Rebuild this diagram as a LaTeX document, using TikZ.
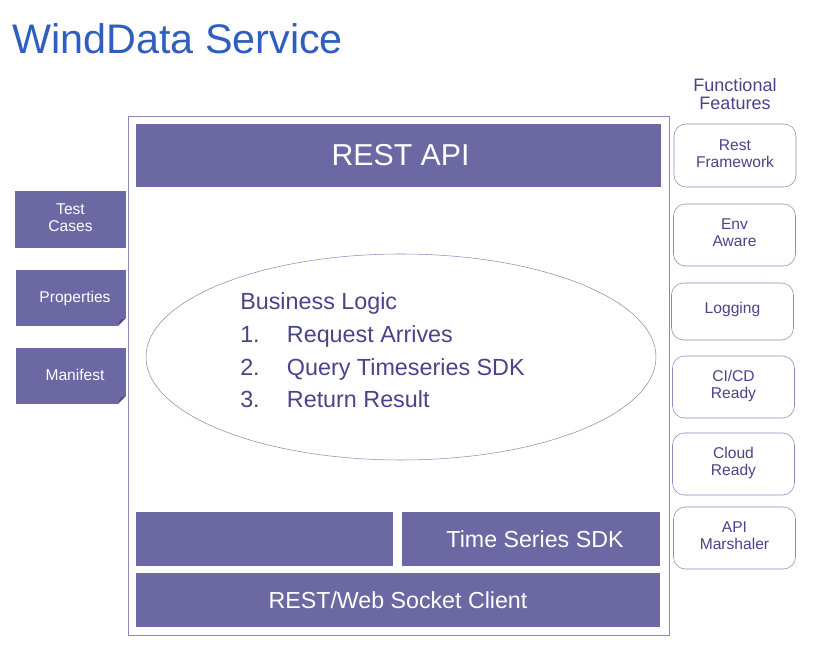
\documentclass[tikz,border=0pt]{standalone}
\usepackage{fontspec}
\setmainfont{Liberation Sans}
\usetikzlibrary{shapes.geometric}
\definecolor{barfill}{RGB}{108,104,164}
\definecolor{linecol}{RGB}{140,136,190}
\definecolor{textcol}{RGB}{72,68,138}
\definecolor{titlecol}{RGB}{48,94,190}
\definecolor{foldcol}{RGB}{80,76,130}
\newcommand{\pxu}{0.75pt}

\begin{document}
\begin{tikzpicture}[x=0.75pt,y=-0.75pt,
    bar/.style={fill=barfill,text=white,inner sep=0pt,outer sep=0pt},
    side/.style={bar,align=center,font=\fontsize{11.7}{12.8}\selectfont},
    feat/.style={draw=linecol,fill=white,rounded corners=9pt,text=textcol,align=center,
                 inner sep=0pt,font=\fontsize{11.7}{12.8}\selectfont}]
  \useasboundingbox (0,0) rectangle (814,655);

  \node[anchor=base west,inner sep=0pt,text=titlecol,font=\fontsize{31}{31}\selectfont] (title) at (12,54) {WindData Service};

  % service frame
  \node[draw=linecol,inner sep=0pt,minimum width=541*\pxu,minimum height=519*\pxu] (frame) at (398.5,375.5) {};
  \node[bar,minimum width=525*\pxu,minimum height=63*\pxu,font=\fontsize{22.7}{24}\selectfont] (restapi) at (398.5,155.5) {\raisebox{-1pt}{\hspace{3pt}REST API}};
  \node[draw=linecol,ellipse,inner sep=0pt,minimum width=510*\pxu,minimum height=206*\pxu] (logic) at (401,357) {};
  \node[anchor=west,inner sep=0pt,text=textcol,align=left,font=\fontsize{17.5}{24.5}\selectfont] (steps) at (240,350.5)
    {Business Logic\\\makebox[35pt][l]{1.}Request Arrives\\\makebox[35pt][l]{2.}Query Timeseries SDK\\\makebox[35pt][l]{3.}Return Result};
  \node[bar,minimum width=257*\pxu,minimum height=54*\pxu] (empty) at (264.5,539) {};
  \node[bar,minimum width=258*\pxu,minimum height=54*\pxu,font=\fontsize{17.4}{20}\selectfont] (sdk) at (531,539) {\hspace{6pt}Time Series SDK};
  \node[bar,minimum width=524*\pxu,minimum height=54*\pxu,font=\fontsize{17.4}{20}\selectfont] (client) at (398,600) {REST/Web Socket Client};

  % left side
  \node[side,minimum width=111*\pxu,minimum height=57*\pxu] (tests) at (70.5,219.5) {\raisebox{2pt}{\begin{tabular}{@{}c@{}}Test\\Cases\end{tabular}}};
  \node[side,minimum width=110*\pxu,minimum height=56*\pxu] (props) at (71,298) {\raisebox{1.5pt}{\hspace{6pt}Properties}};
  \node[side,minimum width=110*\pxu,minimum height=56*\pxu] (manifest) at (71,376) {\raisebox{1.5pt}{\hspace{6pt}Manifest}};
  \foreach \b in {props,manifest}{
    \fill[white] ([xshift=-6pt]\b.south east) -- (\b.south east) -- ([yshift=6pt]\b.south east) -- cycle;
    \fill[foldcol] ([xshift=-6pt]\b.south east) -- ([yshift=6pt]\b.south east) -- ([xshift=-4.5pt,yshift=4.5pt]\b.south east) -- cycle;
  }

  % right side
  \node[align=center,text=textcol,font=\fontsize{13.5}{13.5}\selectfont] (featttl) at (735,94) {Functional\\Features};
  \foreach \nm/\x/\y/\h/\r/\txt in {restfw/735/155.5/63/2/{Rest\\Framework}, env/734.5/235/62/2/{Env\\Aware},
      logging/732.5/311.5/57/5/{Logging}, cicd/733.5/387/62/2/{CI/CD\\Ready},
      cloud/733.5/464/62/2/{Cloud\\Ready}, api/734.5/538/62/2/{API\\Marshaler}}
    \node[feat,minimum width=122*\pxu,minimum height=\h*\pxu] (\nm) at (\x,\y)
      {\raisebox{\r pt}{\begin{tabular}{@{}c@{}}\txt\end{tabular}}};
\end{tikzpicture}
\end{document}
